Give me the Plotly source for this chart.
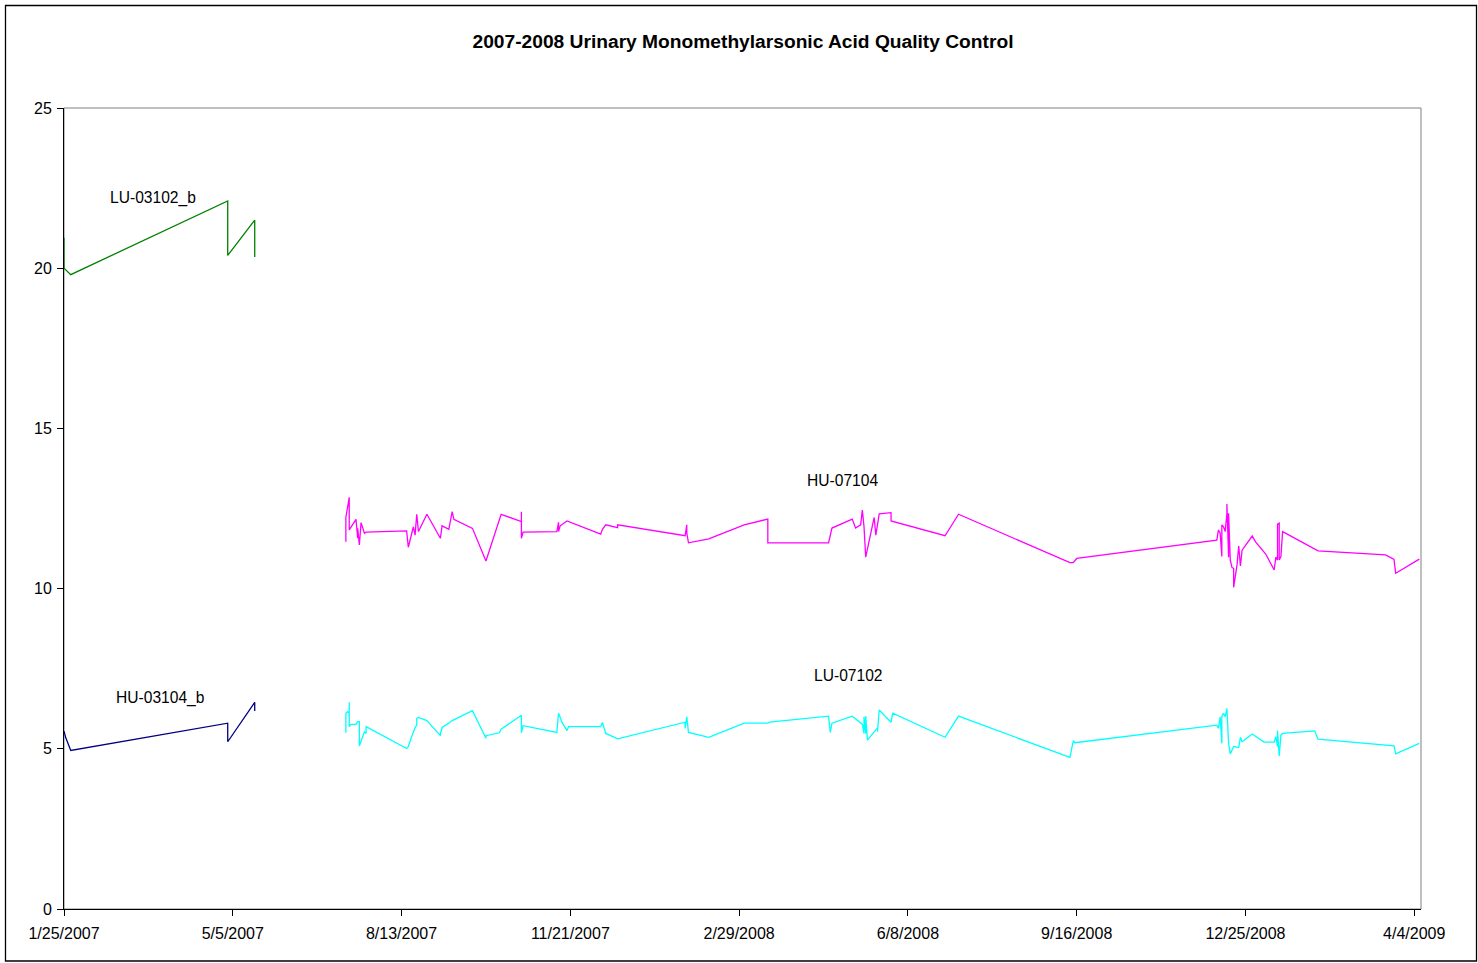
import pandas as pd
import plotly.graph_objects as go

START = pd.Timestamp("2007-01-25")

# ---- data (days after 2007-01-25, measured value) ----
lu03102_days = [0, 0, 4, 97, 97, 113, 113]
lu03102_vals = [20.95, 20.0, 19.8, 22.1, 20.4, 21.5, 20.35]

hu03104_days = [0, 1, 4, 97, 97, 113, 113]
hu03104_vals = [5.55, 5.35, 4.95, 5.8, 5.22, 6.45, 6.18]

hu07104_days = [167, 167, 169, 169, 173, 174, 174, 175, 176, 178, 179, 203, 204, 205, 206, 207, 208, 209, 210,
                215, 223, 224, 228, 230, 231, 242, 250, 259, 271, 271, 271, 272, 292, 293, 293, 294, 298, 318,
                319, 321, 328, 328, 368, 369, 369, 370, 382, 403, 417, 417, 453, 455, 467, 469, 472, 473, 474,
                475, 480, 481, 483, 490, 490, 522, 530, 596, 598, 600, 683, 684, 685, 686, 686, 687, 688, 689,
                689, 690, 690, 691, 692, 693, 693, 695, 696, 697, 698, 704, 706, 712, 717, 718, 719, 719, 720,
                720, 721, 722, 741, 743, 783, 788, 789, 803]
hu07104_vals = [11.46, 12.22, 12.85, 11.83, 12.16, 11.57, 11.88, 11.36, 12.06, 11.73, 11.76, 11.80, 11.29, 11.52,
                11.73, 11.93, 11.67, 12.32, 11.78, 12.32, 11.57, 11.96, 11.85, 12.40, 12.16, 11.88, 10.86, 12.32,
                12.09, 12.40, 11.57, 11.76, 11.78, 12.07, 11.78, 11.96, 12.11, 11.70, 11.85, 11.99, 11.90, 11.99,
                11.65, 11.99, 11.73, 11.43, 11.55, 11.99, 12.17, 11.43, 11.43, 11.89, 12.17, 11.89, 11.99, 12.45,
                11.93, 10.98, 12.22, 11.67, 12.33, 12.37, 12.11, 11.65, 12.32, 10.81, 10.81, 10.94, 11.51, 11.83,
                11.73, 11.00, 11.99, 11.93, 11.78, 12.35, 12.64, 10.98, 12.35, 10.89, 10.66, 10.63, 10.04, 10.74,
                11.33, 10.71, 11.20, 11.64, 11.46, 11.08, 10.58, 10.98, 10.89, 12.01, 12.04, 10.89, 11.00, 11.78,
                11.26, 11.18, 11.05, 10.91, 10.48, 10.92]

lu07102_days = [167, 167, 168, 169, 169, 169, 170, 173, 174, 175, 175, 178, 179, 179, 203, 204, 206, 207, 208,
                209, 209, 210, 215, 223, 223, 224, 224, 228, 230, 242, 250, 250, 258, 259, 271, 271, 272, 292,
                293, 294, 295, 298, 299, 318, 319, 321, 328, 368, 368, 369, 370, 382, 403, 417, 418, 453, 454,
                455, 467, 473, 474, 474, 475, 475, 476, 481, 482, 482, 483, 490, 491, 522, 530, 596, 598, 599,
                683, 684, 685, 686, 686, 687, 688, 689, 690, 690, 691, 693, 696, 697, 698, 704, 711, 717, 718,
                719, 719, 720, 721, 722, 741, 743, 788, 789, 803]
lu07102_vals = [5.50, 6.11, 6.16, 6.11, 6.45, 5.69, 5.76, 5.76, 5.85, 5.85, 5.09, 5.53, 5.48, 5.69, 5.01, 5.07,
                5.38, 5.53, 5.66, 5.74, 5.95, 5.98, 5.88, 5.41, 5.48, 5.64, 5.67, 5.80, 5.88, 6.19, 5.33, 5.41,
                5.50, 5.61, 6.05, 5.50, 5.72, 5.51, 6.11, 5.98, 5.83, 5.57, 5.69, 5.69, 5.82, 5.48, 5.31, 5.83,
                5.64, 6.00, 5.51, 5.36, 5.80, 5.80, 5.83, 6.02, 5.51, 5.80, 6.02, 5.77, 5.48, 6.00, 5.48, 6.02,
                5.27, 5.59, 5.64, 5.53, 6.21, 5.83, 6.11, 5.36, 6.02, 4.73, 5.25, 5.19, 5.74, 5.64, 6.00, 5.17,
                6.02, 6.11, 6.00, 6.26, 5.48, 5.17, 4.84, 5.07, 5.04, 5.36, 5.22, 5.46, 5.21, 5.21, 5.38, 5.07,
                5.57, 4.78, 5.43, 5.48, 5.56, 5.30, 5.09, 4.84, 5.17]

series_names = ["LU-03102_b", "HU-03104_b", "HU-07104", "LU-07102"]
series_days = [lu03102_days, hu03104_days, hu07104_days, lu07102_days]
series_vals = [lu03102_vals, hu03104_vals, hu07104_vals, lu07102_vals]
series_colors = ["#008000", "#000080", "#FF00FF", "#00FFFF"]

# label anchor points (days after start, value)
label_days = [53, 57, 461, 465]
label_vals = [22.19, 6.59, 13.36, 7.30]

title_text = "2007-2008 Urinary Monomethylarsonic Acid Quality Control"
y_ticks = [0, 5, 10, 15, 20, 25]


def to_dates(days):
    return START + pd.to_timedelta(days, unit="D")


FONT = "Liberation Sans, Arial, sans-serif"

fig = go.Figure()
for name, d, v, c in zip(series_names, series_days, series_vals, series_colors):
    fig.add_trace(go.Scatter(x=to_dates(d), y=v, mode="lines", name=name,
                             line=dict(color=c, width=1.3), showlegend=False))

for name, d, v in zip(series_names, label_days, label_vals):
    fig.add_annotation(x=to_dates([d])[0], y=v, text=name, showarrow=False,
                       font=dict(family=FONT, size=15.6, color="black"),
                       xanchor="center", yanchor="middle")

L, R, T, B = 64, 57, 108, 54
W, H = 1478, 963
pw, ph = W - L - R, H - T - B

fig.update_layout(
    width=W, height=H,
    margin=dict(l=L, r=R, t=T, b=B),
    paper_bgcolor="white", plot_bgcolor="white",
    title=dict(text="<b>" + title_text + "</b>", x=(743 - L) / pw, xref="paper", xanchor="center",
               y=1 - 41 / H, yref="container", yanchor="middle",
               font=dict(family=FONT, size=19.2, color="black")),
    font=dict(family=FONT, size=15, color="black"),
    xaxis=dict(
        type="date",
        range=[START, START + pd.Timedelta(days=804)],
        tick0=START, dtick=100 * 86400000, tickformat="%-m/%-d/%Y",
        showgrid=False, zeroline=False,
        showline=True, linecolor="black", linewidth=1,
        ticks="outside", ticklen=6, tickcolor="black",
        ticklabelstandoff=4,
        tickfont=dict(family=FONT, size=16, color="black"),
    ),
    yaxis=dict(
        range=[0, 25], tickvals=y_ticks,
        showgrid=False, zeroline=False,
        showline=True, linecolor="black", linewidth=1,
        ticks="outside", ticklen=6, tickcolor="black",
        ticklabelstandoff=2,
        tickfont=dict(family=FONT, size=16, color="black"),
    ),
    shapes=[
        # plot-area frame (grey)
        dict(type="rect", xref="paper", yref="paper", x0=0, x1=1, y0=0, y1=1,
             line=dict(color="#808080", width=1), layer="below"),
        # chart-area border (black)
        dict(type="rect", xref="paper", yref="paper",
             x0=(5.5 - L) / pw, x1=(1476.5 - L) / pw,
             y0=(H - B - 961) / ph, y1=(H - B - 5.5) / ph,
             line=dict(color="black", width=1.3), layer="below"),
    ],
)

fig.write_html("out.html", config={"displayModeBar": False},
               post_script="document.body.style.margin='0';document.body.style.overflow='hidden';")
